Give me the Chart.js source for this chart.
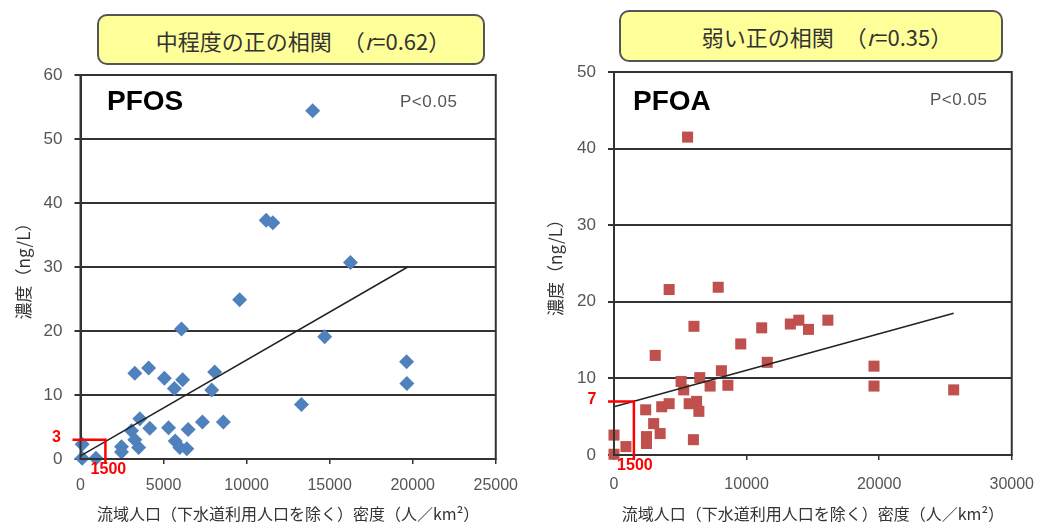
<!DOCTYPE html>
<html><head><meta charset="utf-8">
<script src="https://cdn.jsdelivr.net/npm/chart.js@4/dist/chart.umd.min.js"></script>
<style>
html,body{margin:0;padding:0;background:#fff;width:1049px;height:524px;overflow:hidden;position:relative;font-family:"Noto Sans CJK JP","Noto Sans",sans-serif;}
canvas{position:absolute;top:0;}
.box{position:absolute;background:#FFFF99;border:2px solid #555;border-radius:10px;box-sizing:border-box;display:flex;align-items:center;justify-content:center;font-size:22px;color:#333;white-space:pre;}
.lab{position:absolute;white-space:pre;}
.big{font-family:"Liberation Sans",Arial,sans-serif;font-weight:bold;font-size:28px;color:#000;}
.p{font-family:"Liberation Sans",Arial,sans-serif;font-size:17px;color:#555;letter-spacing:0.5px;}
</style></head>
<body>
<div class="box" style="left:97px;top:14px;width:388px;height:51px;padding-left:24px;">中程度の正の相関　（<i>r</i>=0.62）</div>
<div class="box" style="left:619px;top:10px;width:384px;height:52px;padding-left:32px;">弱い正の相関　（<i>r</i>=0.35）</div>
<canvas id="c1" width="530" height="524" style="left:0px;"></canvas>
<canvas id="c2" width="519" height="524" style="left:530px;"></canvas>
<div class="lab big" style="left:107px;top:85px;">PFOS</div>
<div class="lab p" style="left:400px;top:92px;">P&lt;0.05</div>
<div class="lab big" style="left:633px;top:85px;">PFOA</div>
<div class="lab p" style="left:930px;top:90px;">P&lt;0.05</div>
<script>
// ---- data ----
const pfosX = [100, 100, 930, 2470, 2470, 3070, 3270, 3500, 3570, 3270, 4100, 4170, 5050, 5300, 5650, 6150, 5700, 5980, 6400, 6480, 6080, 7340, 7900, 8080, 8600, 9580, 11180, 11580, 13300, 13980, 14700, 16250, 19630, 19650];
const pfosY = [0.1, 2.3, 0.1, 1.1, 1.9, 4.4, 3.0, 1.8, 6.3, 13.4, 14.2, 4.8, 12.6, 4.9, 11.0, 12.4, 2.8, 1.8, 1.6, 4.6, 20.3, 5.8, 10.8, 13.6, 5.8, 24.9, 37.3, 36.9, 8.5, 54.4, 19.1, 30.7, 15.2, 11.8];
const pfoaX = [0, 0, 900, 2390, 2450, 2450, 2990, 3480, 3110, 3600, 4160, 4160, 5060, 5260, 5550, 5670, 6030, 5990, 6230, 6400, 6470, 7250, 7860, 8100, 8590, 9560, 11140, 11560, 13300, 13940, 14670, 16130, 19610, 19610, 25620];
const pfoaY = [2.6, 0.1, 1.1, 5.9, 2.4, 1.5, 4.1, 2.8, 13.0, 6.3, 6.7, 21.6, 9.6, 8.5, 41.5, 6.7, 16.8, 2.0, 7.0, 5.7, 10.1, 9.0, 21.9, 11.0, 9.1, 14.5, 16.6, 12.1, 17.1, 17.6, 16.4, 17.6, 11.6, 9.0, 8.5];
const pfosTrendX = [0, 19700];
const pfosTrendY = [0.5, 30.0];
const pfoaTrendX = [0, 25620];
const pfoaTrendY = [6.3, 18.5];
const pfosXTicks = [0, 5000, 10000, 15000, 20000, 25000];
const pfosYTicks = [0, 10, 20, 30, 40, 50, 60];
const pfoaXTicks = [0, 10000, 20000, 30000];
const pfoaYTicks = [0, 10, 20, 30, 40, 50];
const pfosMark = {x: 1500, y: 3};
const pfoaMark = {x: 1500, y: 7};
const yTitle = '濃度（ng/L）';
const xTitle = '流域人口（下水道利用人口を除く）密度（人／km²）';

const zip = (xs, ys) => xs.map((x, i) => ({x, y: ys[i]}));

const framePlugin = {
  id: 'frame',
  afterDraw(chart) {
    const a = chart.chartArea, ctx = chart.ctx;
    ctx.save(); ctx.strokeStyle = '#333'; ctx.lineWidth = 2;
    ctx.strokeRect(a.left, a.top, a.right - a.left, a.bottom - a.top);
    ctx.restore();
  }
};

function markPlugin(mark, o) {
  return {
    id: 'mark',
    afterDraw(chart) {
      const ctx = chart.ctx, xs = chart.scales.x, ys = chart.scales.y;
      const px = xs.getPixelForValue(mark.x), py = ys.getPixelForValue(mark.y);
      const base = ys.getPixelForValue(0);
      ctx.save();
      ctx.strokeStyle = '#FF0000'; ctx.lineWidth = 2.5;
      ctx.beginPath();
      ctx.moveTo(chart.chartArea.left - o.hx, py);
      ctx.lineTo(px, py);
      ctx.lineTo(px, base + 5);
      ctx.stroke();
      ctx.fillStyle = '#FF0000';
      ctx.font = 'bold 16px "Liberation Sans", Arial, sans-serif';
      ctx.textBaseline = 'middle'; ctx.textAlign = 'center';
      ctx.fillText(String(mark.y), chart.chartArea.left - o.ly, py - 2);
      ctx.fillText(String(mark.x), px + o.lx, base + 11);
      ctx.restore();
    }
  };
}

function makeChart(id, pts, trend, color, style, radius, xTicks, yTicks, L, mark, mo) {
  return new Chart(document.getElementById(id), {
    type: 'scatter',
    data: {
      datasets: [
        { type: 'line', data: trend, borderColor: '#222', borderWidth: 1.5, pointRadius: 0, showLine: true, fill: false, order: 0, clip: false },
        { data: pts, backgroundColor: color, borderColor: color, borderWidth: 0, pointStyle: style, pointRadius: radius, pointHoverRadius: radius, order: 1, clip: false }
      ]
    },
    options: {
      responsive: false, animation: false, devicePixelRatio: 1,
      layout: { padding: { left: 0, top: L.top, right: L.right, bottom: 0 } },
      plugins: { legend: { display: false }, tooltip: { enabled: false } },
      scales: {
        x: {
          type: 'linear', min: xTicks[0], max: xTicks[xTicks.length - 1],
          afterBuildTicks: s => { s.ticks = xTicks.map(v => ({value: v})); },
          afterFit: s => { s.height = L.xh; },
          grid: { drawOnChartArea: false, drawTicks: true, tickLength: 5, color: '#333', lineWidth: 1.5 },
          border: { display: true, color: '#333', width: 2 },
          ticks: { color: '#555', font: { size: 16, family: '"Liberation Sans", Arial, sans-serif' }, padding: L.xpad, maxRotation: 0, callback: v => String(v) },
          title: { display: true, text: xTitle, color: '#333', font: { size: 16, family: '"Noto Sans CJK JP", sans-serif', lineHeight: 1.0 }, padding: { top: 0, bottom: 2 } }
        },
        y: {
          type: 'linear', min: yTicks[0], max: yTicks[yTicks.length - 1],
          afterBuildTicks: s => { s.ticks = yTicks.map(v => ({value: v})); },
          afterFit: s => { s.width = L.yw; },
          grid: { drawOnChartArea: true, drawTicks: true, tickLength: 6, color: '#333', lineWidth: 2 },
          border: { display: true, color: '#333', width: 2 },
          ticks: { color: '#555', font: { size: 17, family: '"Liberation Sans", Arial, sans-serif' }, padding: 12, callback: v => String(v) },
          title: { display: true, text: yTitle, color: '#333', font: { size: 17, family: '"Noto Sans CJK JP", sans-serif', lineHeight: 1.2 }, padding: { top: L.ytp, bottom: 0 } }
        }
      }
    },
    plugins: [framePlugin, markPlugin(mark, mo)]
  });
}

makeChart('c1', zip(pfosX, pfosY), zip(pfosTrendX, pfosTrendY), '#4F81BD', 'rectRot', 7.5,
  pfosXTicks, pfosYTicks, { top: 75, right: 33, xh: 65, yw: 80.5, xpad: 12, ytp: 13 }, pfosMark, { hx: 8, ly: 24, lx: 3 });
makeChart('c2', zip(pfoaX, pfoaY), zip(pfoaTrendX, pfoaTrendY), '#C0504D', 'rect', 7.8,
  pfoaXTicks, pfoaYTicks, { top: 72, right: 24, xh: 69, yw: 84, xpad: 15, ytp: 15 }, pfoaMark, { hx: 6, ly: 22, lx: 1 });
</script>
</body></html>
